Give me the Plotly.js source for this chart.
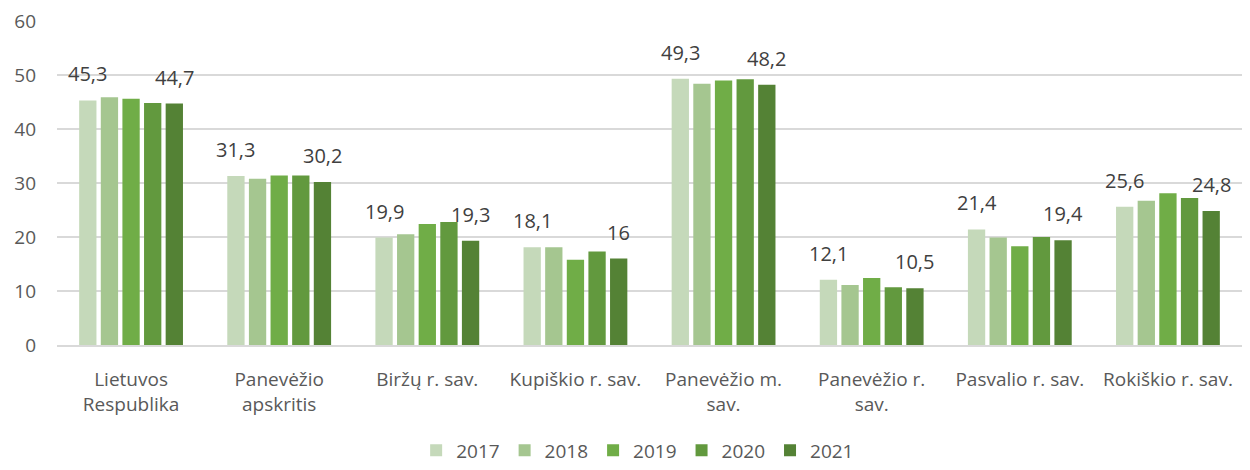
<!DOCTYPE html>
<html><head><meta charset="utf-8">
<script src="https://cdn.plot.ly/plotly-3.0.1.min.js"></script>
<style>html,body{margin:0;padding:0;background:#fff}#chart{width:1250px;height:470px}</style>
</head><body><div id="chart"></div>
<script>
const categories = ["Lietuvos<br>Respublika","Panevėžio<br>apskritis","Biržų r. sav.","Kupiškio r. sav.","Panevėžio m.<br>sav.","Panevėžio r.<br>sav.","Pasvalio r. sav.","Rokiškio r. sav."];
const years = ["2017","2018","2019","2020","2021"];
const v2017 = [45.3, 31.3, 19.9, 18.1, 49.3, 12.1, 21.4, 25.6];
const v2018 = [45.9, 30.8, 20.5, 18.1, 48.4, 11.1, 19.9, 26.7];
const v2019 = [45.6, 31.4, 22.4, 15.8, 49.0, 12.4, 18.3, 28.1];
const v2020 = [44.8, 31.4, 22.8, 17.3, 49.2, 10.7, 20.0, 27.2];
const v2021 = [44.7, 30.2, 19.3, 16.0, 48.2, 10.5, 19.4, 24.8];
const colors = ["#C5D9BA","#A5C690","#70AD47","#62993E","#548235"];
const series = [v2017, v2018, v2019, v2020, v2021];
const labeled = [true, false, false, false, true];
const font = "Open Sans, Liberation Sans, sans-serif";
const fmt = v => String(v).replace('.', ',');
const bargap = 0.27;
const traces = series.map((vals, i) => ({
  type: 'bar', name: years[i], x: categories, y: vals,
  marker: {color: colors[i]},
  hoverinfo: 'y'
}));
// value labels for first and last year, placed via the category axis
const annotations = [];
series.forEach((vals, i) => {
  if (!labeled[i]) return;
  const off = (1 - bargap) * (i - (series.length - 1) / 2) / series.length;
  vals.forEach((v, c) => {
    annotations.push({
      x: c + off, y: v, xref: 'x', yref: 'y',
      text: fmt(v), showarrow: false, yanchor: 'bottom', yshift: 11,
      font: {family: font, size: 20, color: '#404040'}
    });
  });
});
const layout = {
  width: 1250, height: 470,
  margin: {l: 57, r: 8, t: 21, b: 125, autoexpand: false},
  paper_bgcolor: '#fff', plot_bgcolor: '#fff',
  barmode: 'group', bargap: bargap, bargroupgap: 0.2,
  font: {family: font, size: 19, color: '#595959'},
  xaxis: {showgrid: false, showline: true, linecolor: '#D9D9D9', linewidth: 1.5, ticks: '', ticklabelstandoff: 17, automargin: false, tickfont: {size: 19, color: '#595959'}},
  yaxis: {range: [0, 60], dtick: 10, showgrid: true, gridcolor: '#D9D9D9', gridwidth: 1.5, zeroline: false, ticks: '', ticklabelstandoff: 20, automargin: false, tickfont: {size: 19, color: '#595959'}},
  showlegend: true,
  legend: {orientation: 'h', x: 0.49, xanchor: 'center', y: -0.325, yanchor: 'middle', font: {size: 19, color: '#595959'}, itemwidth: 30, traceorder: 'normal'},
  annotations: annotations
};
Plotly.newPlot('chart', traces, layout, {displayModeBar: false, staticPlot: true});
</script></body></html>
